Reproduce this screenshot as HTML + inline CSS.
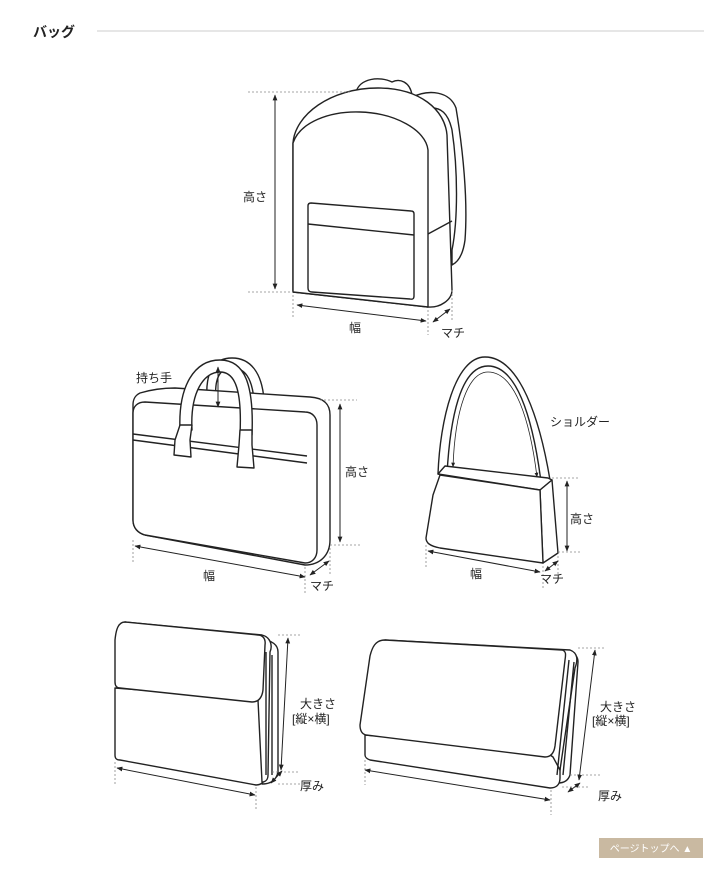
<!DOCTYPE html>
<html><head><meta charset="utf-8"><style>
html,body{margin:0;padding:0;background:#fff;width:722px;height:885px;overflow:hidden}
svg{display:block}
text{font-family:"Liberation Sans","Noto Sans CJK JP",sans-serif;fill:#222}
</style></head><body>
<svg width="722" height="885" viewBox="0 0 722 885" xmlns="http://www.w3.org/2000/svg">
<defs>
<marker id="a" viewBox="0 0 10 10" refX="9" refY="5" markerWidth="6" markerHeight="6" orient="auto-start-reverse"><path d="M0,1 L10,5 L0,9 z" fill="#222"/></marker>
</defs>
<text x="33" y="37" font-size="14" font-weight="bold">バッグ</text>
<line x1="97" y1="31" x2="704" y2="31" stroke="#ccc" stroke-width="1"/>

<g fill="#fff" stroke="#222" stroke-width="1.4" stroke-linejoin="round">
<!-- backpack -->
<path d="M410,98 C430,88 450,92 456,108 C463,150 468,200 465,240 C463,255 458,262 452,265 L452,250 C458,220 458,170 452,130 C448,112 440,108 432,108 Z"/>
<path d="M356,92 C360,78 380,76 392,82 C400,78 410,82 412,95 L400,95 C395,88 385,86 375,92 Z"/>
<path d="M293,143 C295,115 330,88 378,88 C420,88 445,110 447,135 L452,290 C452,300 440,308 428,307 L293,292 Z"/>
<path d="M293,143 C300,122 330,111 360,112 C395,113 426,130 428,150 L428,307 L293,292 Z"/>
<line x1="428" y1="234" x2="452" y2="221"/>
<path d="M311,203 L411,211 Q414,211 414,214 L414,296 Q414,300 410,299 L312,292 Q308,292 308,288 L308,206 Q308,203 311,203 Z"/>
<line x1="308" y1="224" x2="414" y2="235"/>

<!-- briefcase -->
<path d="M207,400 C205,370 215,358 232,358 C250,358 262,372 264,400 L254,400 C252,378 245,368 232,368 C220,368 214,378 216,400 Z"/>
<path d="M140,393 C150,390 160,388 175,388 L310,397 C325,398 330,405 330,415 L330,540 C330,555 320,565 305,565 L145,535 C138,533 133,528 133,520 L133,405 C133,398 136,395 140,393 Z"/>
<path d="M145,402 L305,412 C312,412 317,417 317,425 L317,550 C317,558 312,563 305,563 L145,535 C138,533 133,528 133,520 L133,413 C133,406 138,402 145,402 Z"/>
<line x1="133" y1="434" x2="307" y2="456"/>
<line x1="133" y1="440" x2="307" y2="463"/>
<path d="M180,430 C178,385 195,360 220,360 C245,360 254,385 252,435 L240,435 C242,392 236,372 220,372 C204,372 190,392 192,430 Z"/>
<path d="M180,425 L192,425 L190,440 L191,457 L174,455 L175,440 Z"/>
<path d="M240,430 L252,430 L252,445 L254,468 L237,467 L239,445 Z"/>

<!-- shoulder -->
<path d="M438,474 C440,420 455,357 485,357 C520,357 540,420 550,480 L542,490 C535,430 520,366 488,366 C460,366 450,420 447,474 Z"/>
<path d="M438,474 L540,490 L552,480 L548,478 L445,466 Z"/>
<path d="M540,490 L552,480 L558,553 L543,563 Z"/>
<path d="M440,475 L540,490 L543,563 L440,548 C430,546 426,543 426,538 L433,495 Z"/>

<!-- wallet 1 -->
<path d="M262,640 C272,640 278,645 278,652 L278,772 C276,782 268,784 262,784 Z"/>
<path d="M115,688 L115,755 C115,759 117,760 120,760 L256,785 C262,785 267,780 267,772 L267,700 Z"/>
<path d="M125,622 L262,635 C270,637 273,645 270,652 L268,775 C268,779 266,782 262,782 L258,700 Z"/>
<path d="M125,622 C118,622 116,630 115,640 L115,682 C115,686 117,688 120,688 L252,702 C258,702 262,698 263,690 L265,645 C266,638 262,635 258,635 Z"/>
<path d="M266,652 L266,775 M272,655 L272,775" fill="none"/>

<!-- wallet 2 -->
<path d="M567,652 C575,652 578,657 578,662 L570,775 C568,781 563,783 558,783 Z"/>
<path d="M365,735 L365,755 C365,757 367,759 370,760 L550,788 C556,788 560,785 560,778 L560,752 Z"/>
<path d="M385,640 L570,650 C578,653 578,660 575,668 L560,770 L553,757 Z"/>
<path d="M385,640 C375,640 372,648 370,656 L360,725 C360,731 362,734 366,735 L545,757 C551,757 554,753 555,746 L565,660 C566,654 566,651 562,650 Z"/>
<path d="M569,660 L557,775 M574,662 L563,775" fill="none"/>
</g>

<!-- dotted guides -->
<g stroke="#888" stroke-width="0.8" stroke-dasharray="2,2" fill="none">
<path d="M248,92 H352 M248,292 H293 M293,295 V318 M428,310 V335 M452,290 V320"/>
<path d="M320,400 H357 M330,545 H360 M133,540 V563 M305,567 V595 M330,548 V575"/>
<path d="M552,478 H580 M558,552 H580 M426,545 V568 M543,566 V590 M558,556 V575"/>
<path d="M278,635 H300 M272,772 H298 M278,784 H300 M115,762 V785 M256,787 V810"/>
<path d="M578,648 H605 M570,775 H600 M562,787 H590 M365,760 V785 M551,790 V815"/>
</g>

<!-- arrows -->
<g stroke="#222" stroke-width="1" fill="none" marker-start="url(#a)" marker-end="url(#a)">
<line x1="275" y1="95" x2="275" y2="289"/>
<line x1="297" y1="305" x2="426" y2="321"/>
<line x1="433" y1="322" x2="450" y2="309"/>
<line x1="218" y1="367" x2="218" y2="407"/>
<line x1="340" y1="404" x2="340" y2="542"/>
<line x1="135" y1="546" x2="305" y2="577"/>
<line x1="310" y1="575" x2="329" y2="561"/>
<path d="M453,467 C455,410 468,372 488,372 C515,372 530,420 537,477" stroke-width="0.8"/>
<line x1="567" y1="481" x2="567" y2="551"/>
<line x1="428" y1="551" x2="540" y2="572"/>
<line x1="545" y1="571" x2="558" y2="561"/>
<line x1="288" y1="638" x2="281" y2="770"/>
<line x1="271" y1="783" x2="282" y2="771"/>
<line x1="117" y1="768" x2="255" y2="795"/>
<line x1="595" y1="650" x2="579" y2="780"/>
<line x1="568" y1="792" x2="580" y2="783"/>
<line x1="365" y1="770" x2="550" y2="800"/>
</g>

<g font-size="12">
<text x="243" y="201">高さ</text>
<text x="349" y="332">幅</text>
<text x="441" y="337">マチ</text>
<text x="136" y="382">持ち手</text>
<text x="345" y="476">高さ</text>
<text x="203" y="580">幅</text>
<text x="310" y="590">マチ</text>
<text x="550" y="426">ショルダー</text>
<text x="570" y="523">高さ</text>
<text x="470" y="578">幅</text>
<text x="540" y="583">マチ</text>
<text x="300" y="708">大きさ</text>
<text x="292" y="723">[縦×横]</text>
<text x="300" y="790">厚み</text>
<text x="600" y="711">大きさ</text>
<text x="592" y="725">[縦×横]</text>
<text x="598" y="800">厚み</text>
</g>

<rect x="599" y="838" width="104" height="20" fill="#c9b9a1"/>
<text x="651" y="852" font-size="10" text-anchor="middle" style="fill:#fff">ページトップへ ▲</text>
</svg>
</body></html>
